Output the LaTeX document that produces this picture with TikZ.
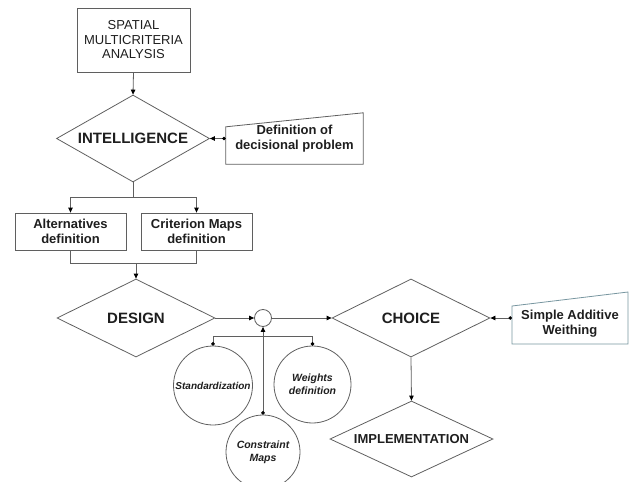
\documentclass[tikz,border=0pt]{standalone}
\usepackage{fontspec}
\setmainfont{Liberation Sans}
\usetikzlibrary{shapes.geometric,arrows.meta,calc}
\definecolor{linecol}{RGB}{95,95,95}
\definecolor{sawcol}{RGB}{120,150,160}
\definecolor{txtcol}{RGB}{30,30,30}
\begin{document}
\begin{tikzpicture}[x=1pt,y=-1pt,
  line/.style={draw=linecol,line width=0.8pt},
  arr/.style={line,-{Triangle[length=5pt,width=4.5pt,color=black]}},
  dotarr/.style={line,{Circle[length=3.5pt,color=black]}-{Triangle[length=5pt,width=4.5pt,color=black]}},
  dotdot/.style={line,{Circle[length=3.5pt,color=black]}-{Circle[length=3.5pt,color=black]}},
  dia/.style={diamond,aspect=2,line,inner sep=0pt,text=txtcol,font=\fontsize{15}{17}\selectfont\bfseries},
  bbox/.style={rectangle,line,inner sep=0pt,align=center,text=txtcol,font=\fontsize{13}{15}\selectfont\bfseries},
  plain/.style={rectangle,inner sep=0pt,align=center,text=txtcol,font=\fontsize{13}{15}\selectfont\bfseries},
  circ/.style={circle,line,inner sep=0pt,align=center,text=txtcol,font=\fontsize{10.5}{13}\selectfont\bfseries\itshape}
]
\useasboundingbox (0,0) rectangle (638,482);

% top box
\node[bbox,minimum width=113,minimum height=64,font=\fontsize{13}{14.5}\selectfont] (sma) at (133.5,40) {SPATIAL\\MULTICRITERIA\\ANALYSIS};

% intelligence
\node[dia,minimum width=153,minimum height=87] (int) at (133,138.5) {INTELLIGENCE};
\draw[arr] (sma.south) -- (int.north);

% definition of decisional problem (manual input shape)
\node[plain,minimum width=137,minimum height=51] (def) at (294.5,138.5) {Definition of\\decisional problem};
\draw[line] (def.south west) -- ($(def.north west)+(0,14)$) -- (def.north east) -- (def.south east) -- cycle;
\draw[dotarr] (def.west) -- (int.east);

% alternatives / criterion
\node[bbox,minimum width=111,minimum height=37] (alt) at (70.5,231.5) {Alternatives\\definition};
\node[bbox,minimum width=111,minimum height=37] (crit) at (196.5,231.5) {Criterion Maps\\definition};
\draw[arr] (int.south) -- ++(0,15) -| (alt.north);
\draw[arr] (int.south) -- ++(0,15) -| (crit.north);
\draw[line] (alt.south) -- ++(0,13) -| (crit.south);
\coordinate (merge) at ($(alt.south)+(0,13)$);

% design
\node[dia,minimum width=158,minimum height=78] (des) at (136,318) {DESIGN};
\draw[arr] (merge -| des.north) -- (des.north);

% summation circle
\node[circle,line,minimum size=17,inner sep=0pt] (sum) at (263,318) {};
\draw[arr] (des.east) -- (sum.west);

% choice
\node[dia,minimum width=158,minimum height=78] (cho) at (411,318) {CHOICE};
\draw[arr] (sum.east) -- (cho.west);

% simple additive weighting
\node[plain] (saw) at (570,324) {Simple Additive\\Weithing};
\draw[line,draw=sawcol] ($(saw.center)+(-58,20)$) -- ($(saw.center)+(-58,-18)$) -- ($(saw.center)+(58,-32)$) -- ($(saw.center)+(58,20)$) -- cycle;
\coordinate (sawin) at ($(saw.center)+(-58,-6)$);
\draw[dotarr] (sawin) -- (cho.east);

% implementation
\node[dia,minimum width=163,minimum height=76,font=\fontsize{13}{15}\selectfont\bfseries] (imp) at (411.5,439) {IMPLEMENTATION};
\draw[arr] (cho.south) -- (imp.north);

% circles
\node[circ,minimum size=79,font=\fontsize{10}{12}\selectfont\bfseries\itshape] (std) at (213,385.5) {Standardization};
\node[circ,minimum size=77] (wts) at (312.5,384.5) {Weights\\definition};
\node[circ,minimum size=74] (con) at (263,452) {Constraint\\Maps};
\draw[dotdot] (std.north) -- ++(0,-9) -| (wts.north);
\draw[dotarr] (con.north) -- (sum.south);
\end{tikzpicture}
\end{document}
